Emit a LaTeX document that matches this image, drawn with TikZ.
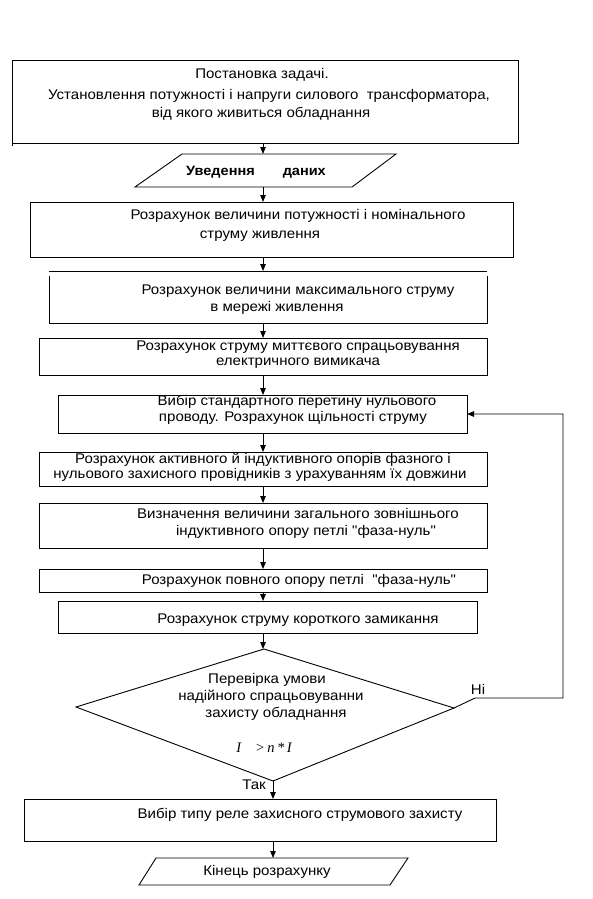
\documentclass[tikz,border=0pt]{standalone}
\usepackage{fontspec}
\setmainfont[FakeStretch=1.075]{Liberation Sans}
\newfontfamily\serifit{Liberation Serif}
\font\qf="Liberation Sans:extend=1.075" at 14pt
\newcommand\sq{{\qf"}}
\usetikzlibrary{arrows.meta}
\begin{document}
\begin{tikzpicture}[x=1pt,y=-1pt,
  box/.style={draw, line width=0.9pt, anchor=north west, inner sep=0pt, outer sep=0pt},
  hid/.style={anchor=north west, inner sep=0pt, outer sep=0pt},
  txt/.style={inner sep=0pt, font=\fontsize{14}{16}\selectfont},
  arr/.style={line width=0.9pt, -{Triangle[length=7pt,width=5.5pt]}},
  ln/.style={line width=0.9pt}]
\useasboundingbox[fill=white] (0,0) rectangle (593,899);

% boxes
\node[box, minimum width=506pt, minimum height=83pt] (b1) at (12,60) {};
\node[hid, minimum width=217pt, minimum height=33pt] (p1) at (135,154) {};
\node[box, minimum width=483pt, minimum height=55pt] (b2) at (30,202) {};
\node[hid, minimum width=438pt, minimum height=52pt] (b3) at (49,271) {};
\node[box, minimum width=448pt, minimum height=37pt] (b4) at (39,338) {};
\node[box, minimum width=409pt, minimum height=38pt] (b5) at (58,395) {};
\node[box, minimum width=448pt, minimum height=34pt] (b6) at (39,452) {};
\node[box, minimum width=448pt, minimum height=45pt] (b7) at (39,503) {};
\node[box, minimum width=448pt, minimum height=23pt] (b8) at (39,569) {};
\node[box, minimum width=419pt, minimum height=32pt] (b9) at (58,601) {};
\node[box, minimum width=472pt, minimum height=42pt] (b10) at (24,799) {};
\node[hid, minimum width=252pt, minimum height=27pt] (p2) at (139,858) {};
\draw[ln] (b1.south west) -- ++(0,3);

% parallelograms
\draw[ln] (182,154) -- (396,154) -- (352,187) -- (135,187) -- cycle;
\draw[ln] (156,858) -- (408,858) -- (390,885) -- (139,885) -- cycle;

% box 3 with detached top line
\draw[ln] (b3.north west) -- (b3.north east);
\draw[ln] ([yshift=-5pt]b3.north west) -- (b3.south west) -- (b3.south east) -- ([yshift=-5pt]b3.north east);

% diamond
\coordinate (dT) at (264,649);
\coordinate (dR) at (454,708);
\coordinate (dB) at (273,781);
\coordinate (dL) at (76,707);
\draw[ln] (dT) -- (dR) -- (dB) -- (dL) -- cycle;

% texts
\node[txt] (t1a) at (262,75) {Постановка задачі.};
\node[txt] (t1b) at (269,96) {Установлення потужності і напруги силового \ трансформатора,};
\node[txt] (t1c) at (261,114) {від якого живиться обладнання};
\node[txt, font=\fontsize{13.5}{16}\selectfont\bfseries] (tp1) at (256,172) {Уведення\hspace{28pt}даних};
\node[txt] (t2a) at (298,216) {Розрахунок величини потужності і номінального};
\node[txt] (t2b) at (260,236) {струму живлення};
\node[txt] (t3a) at (298,291) {Розрахунок величини максимального струму};
\node[txt] (t3b) at (277,308) {в мережі живлення};
\node[txt] (t4a) at (298,347) {Розрахунок струму миттєвого спрацьовування};
\node[txt] (t4b) at (298,363) {електричного вимикача};
\node[txt] (t5a) at (297,402) {Вибір стандартного перетину нульового};
\node[txt] (t5b) at (293,418) {проводу. Розрахунок щільності струму};
\node[txt] (t6a) at (263,460) {Розрахунок активного й індуктивного опорів фазного і};
\node[txt] (t6b) at (260,475) {нульового захисного провідників з урахуванням їх довжини};
\node[txt] (t7a) at (298,513) {Визначення величини загального зовнішнього};
\node[txt] (t7b) at (306,532) {індуктивного опору петлі \sq фаза-нуль\sq};
\node[txt] (t8) at (299,581) {Розрахунок повного опору петлі \ \sq фаза-нуль\sq};
\node[txt] (t9) at (298,620) {Розрахунок струму короткого замикання};
\node[txt] (tda) at (267,680) {Перевірка умови};
\node[txt] (tdb) at (271,697) {надійного спрацьовуванни};
\node[txt] (tdc) at (276,714) {захисту обладнання};
\node[txt, font=\fontsize{14.5}{16}\selectfont\serifit\itshape] (tdd) at (264,748) {I\hspace{14pt}>\,n\,*\,I};
\node[txt] (t10) at (300,815) {Вибір типу реле захисного струмового захисту};
\node[txt] (tp2) at (267,872) {Кінець розрахунку};
\node[txt] (lno) at (478,689) {Ні};
\node[txt] (lyes) at (254,785) {Так};

% connectors
\coordinate (ax) at (263,0);
\coordinate (bx) at (273,0);
\draw[arr] (ax |- b1.south) -- (ax |- p1.north);
\draw[arr] (ax |- p1.south) -- (ax |- b2.north);
\draw[arr] (ax |- b2.south) -- (ax |- b3.north);
\draw[arr] (ax |- b3.south) -- (ax |- b4.north);
\draw[arr] (ax |- b4.south) -- (ax |- b5.north);
\draw[arr] (ax |- b5.south) -- (ax |- b6.north);
\draw[arr] (ax |- b6.south) -- (ax |- b7.north);
\draw[arr] (ax |- b7.south) -- (ax |- b8.north);
\draw[arr] (ax |- b8.south) -- (ax |- b9.north);
\draw[arr] (ax |- b9.south) -- (ax |- dT);
\draw[arr] (dB) -- (bx |- b10.north);
\draw[arr] (bx |- b10.south) -- (bx |- p2.north);
\coordinate (n1) at (475,698);
\coordinate (n2) at (563,698);
\draw[arr] (dR) -- (n1) -- (n2) -- (n2 |- b5.east) -- (b5.east);
\end{tikzpicture}
\end{document}
